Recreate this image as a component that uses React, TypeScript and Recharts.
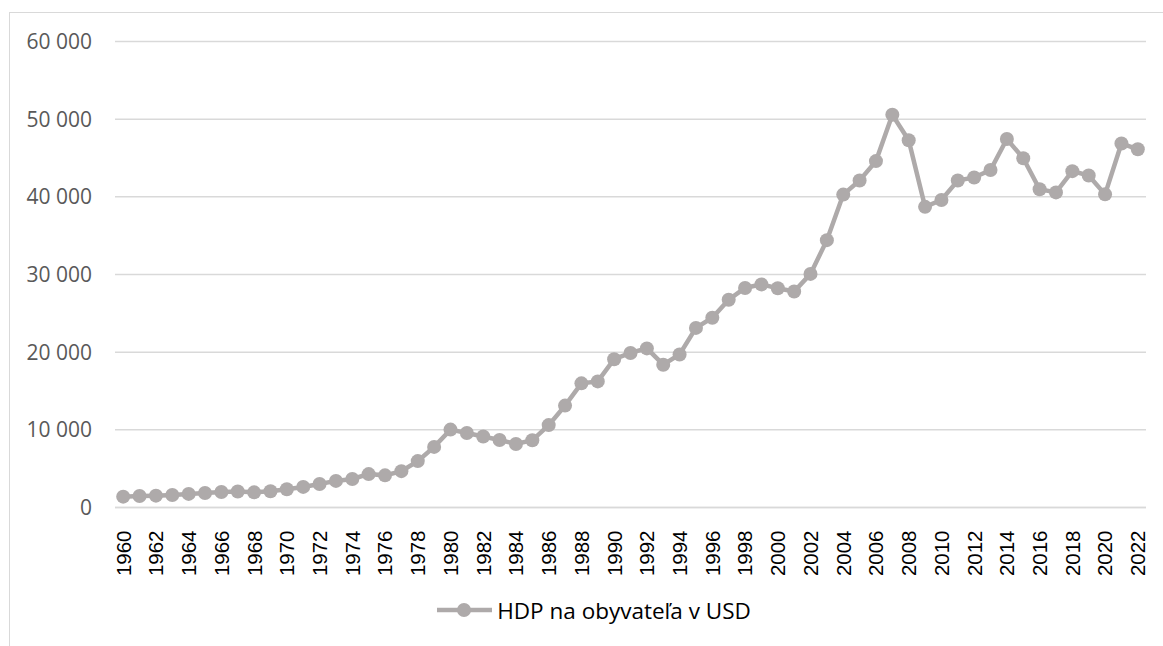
import { LineChart, Line, XAxis, YAxis, CartesianGrid, Legend } from "recharts";

const years = [
  "1960", "1961", "1962", "1963", "1964", "1965", "1966", "1967", "1968", "1969",
  "1970", "1971", "1972", "1973", "1974", "1975", "1976", "1977", "1978", "1979",
  "1980", "1981", "1982", "1983", "1984", "1985", "1986", "1987", "1988", "1989",
  "1990", "1991", "1992", "1993", "1994", "1995", "1996", "1997", "1998", "1999",
  "2000", "2001", "2002", "2003", "2004", "2005", "2006", "2007", "2008", "2009",
  "2010", "2011", "2012", "2013", "2014", "2015", "2016", "2017", "2018", "2019",
  "2020", "2021", "2022",
];

// HDP na obyvateľa (USD)
const gdpPerCapita = [
  1398, 1472, 1526, 1614, 1748, 1874, 1987, 2059, 1952, 2101,
  2348, 2650, 3030, 3426, 3666, 4300, 4138, 4681, 5977, 7805,
  10032, 9599, 9146, 8692, 8179, 8652, 10611, 13119, 15987, 16239,
  19096, 19901, 20487, 18389, 19709, 23123, 24439, 26754, 28269, 28727,
  28223, 27807, 30077, 34420, 40290, 42105, 44600, 50567, 47287, 38713,
  39598, 42110, 42497, 43449, 47440, 44964, 40985, 40572, 43306, 42747,
  40318, 46870, 46125,
];

const yTicks = [0, 10000, 20000, 30000, 40000, 50000, 60000];
const seriesName = "HDP na obyvateľa v USD";

const data = years.map((year, i) => ({ year, value: gdpPerCapita[i] }));

const GRAY = "#AEAAAA";
const GRID = "#D9D9D9";

const fmtY = (v: number) => String(v).replace(/\B(?=(\d{3})+(?!\d))/g, " ");

const YearTick = (props: any) => {
  const { x, y, payload } = props;
  return (
    <g transform={`translate(${x},${y + 15})`}>
      <text
        transform="rotate(-90)"
        textAnchor="end"
        dy="0.36em"
        fill="#000"
        fontFamily="'Liberation Sans', Arial, sans-serif"
        fontSize={20.5}
      >
        {payload.value}
      </text>
    </g>
  );
};

const LegendContent = () => (
  <div
    style={{
      width: 1188,
      height: 30,
      display: "flex",
      justifyContent: "center",
      alignItems: "center",
    }}
  >
    <svg width={60} height={20}>
      <line x1={0} y1={10} x2={55} y2={10} stroke={GRAY} strokeWidth={4.5} />
      <circle cx={27} cy={10} r={7} fill={GRAY} />
    </svg>
    <span
      style={{
        fontFamily: "'Open Sans', sans-serif",
        fontSize: 22.5,
        color: "#000",
        whiteSpace: "nowrap",
      }}
    >
      {seriesName}
    </span>
  </div>
);

export default function App() {
  return (
    <div
      style={{
        position: "absolute",
        left: 0,
        top: 0,
        width: 1163,
        height: 646,
        overflow: "hidden",
        background: "#fff",
      }}
    >
      <div
        style={{
          position: "absolute",
          left: 9,
          top: 12,
          width: 1200,
          height: 700,
          border: `1px solid ${GRID}`,
        }}
      />
      <div style={{ position: "absolute", left: 0, top: 0 }}>
        <LineChart
          width={1163}
          height={646}
          data={data}
          margin={{ top: 41.5, right: 17, left: 0, bottom: 21 }}
        >
          <CartesianGrid vertical={false} stroke={GRID} strokeWidth={1.5} />
          <XAxis
            dataKey="year"
            interval={1}
            tick={<YearTick />}
            tickLine={false}
            axisLine={{ stroke: GRID, strokeWidth: 1.5 }}
            padding={{ left: 8.2, right: 8.2 }}
            height={87.5}
          />
          <YAxis
            domain={[0, 60000]}
            ticks={yTicks}
            tickFormatter={fmtY}
            axisLine={false}
            tickLine={false}
            tickSize={6}
            tickMargin={17}
            width={115}
            tick={{
              fill: "#595959",
              fontSize: 21,
              fontFamily: "'Open Sans', sans-serif",
            }}
          />
          <Line
            type="linear"
            dataKey="value"
            name={seriesName}
            stroke={GRAY}
            strokeWidth={4.5}
            dot={{ r: 7, fill: GRAY, stroke: "none" }}
            activeDot={false}
            isAnimationActive={false}
          />
          <Legend
            verticalAlign="bottom"
            content={<LegendContent />}
            wrapperStyle={{ left: 0, width: 1188 }}
          />
        </LineChart>
      </div>
    </div>
  );
}
